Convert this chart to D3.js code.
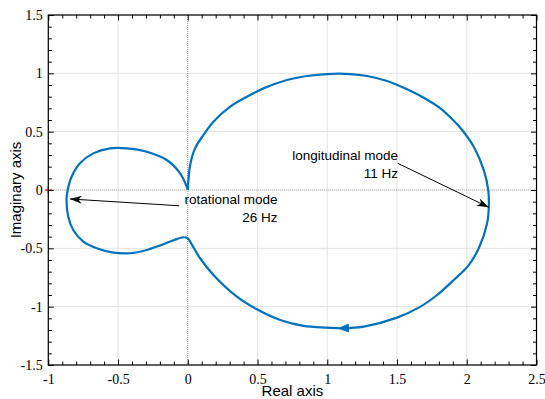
<!DOCTYPE html>
<html><head><meta charset="utf-8">
<script src="https://cdn.jsdelivr.net/npm/d3@7"></script>
<style>
html,body{margin:0;padding:0;background:#fff;}
svg{display:block;}
</style></head>
<body>
<svg id="chart" width="545" height="399"></svg>
<script>
// ---- data ----
const realPart = [0, 0.017, 0.052, 0.112, 0.184, 0.304, 0.424, 0.543, 0.711, 0.854, 0.998, 1.165, 1.285, 1.429, 1.572, 1.691, 1.811, 1.907, 1.967, 2.050, 2.122, 2.154, 2.158, 2.146, 2.086, 2.010, 1.907, 1.787, 1.668, 1.500, 1.261, 1.105, 0.998, 0.830, 0.663, 0.495, 0.352, 0.184, 0.088, 0.030, 0.000, -0.032, -0.100, -0.199, -0.294, -0.414, -0.534, -0.653, -0.749, -0.821, -0.857, -0.869, -0.861, -0.833, -0.773, -0.678, -0.558, -0.438, -0.294, -0.151, -0.055, -0.007, 0];
const imagPart = [0, 0.214, 0.357, 0.471, 0.585, 0.714, 0.800, 0.871, 0.943, 0.977, 0.994, 0.994, 0.977, 0.934, 0.863, 0.791, 0.700, 0.594, 0.514, 0.371, 0.171, 0.000, -0.143, -0.285, -0.500, -0.650, -0.771, -0.900, -1.000, -1.094, -1.171, -1.185, -1.180, -1.165, -1.114, -1.022, -0.914, -0.728, -0.585, -0.470, -0.414, -0.405, -0.430, -0.475, -0.514, -0.542, -0.537, -0.500, -0.443, -0.343, -0.229, -0.071, 0.000, 0.114, 0.229, 0.314, 0.357, 0.357, 0.328, 0.257, 0.143, 0.028, 0];
const xTicks = [-1, -0.5, 0, 0.5, 1, 1.5, 2, 2.5];
const yTicks = [-1.5, -1, -0.5, 0, 0.5, 1, 1.5];
const xLabel = "Real axis";
const yLabel = "Imaginary axis";
const criticalPoint = [-1, 0];
const annotationLines = [["longitudinal mode", "11 Hz"], ["rotational mode", "26 Hz"]];
const annotationTextAt = [[1.507, 0.254], [0.643, -0.120]];
const annotationArrowFrom = [[1.505, 0.229], [-0.062, -0.135]];
const annotationArrowTo = [[2.158, -0.148], [-0.845, -0.077]];
const directionArrowTip = [1.08, -1.186];
const directionArrowTail = [1.16, -1.183];

// ---- layout ----
const svg = d3.select("#chart");
const L = 48.3, R = 536.5, T = 15, B = 365;
const x = d3.scaleLinear().domain([-1, 2.5]).range([L, R]);
const y = d3.scaleLinear().domain([-1.5, 1.5]).range([B, T]);
const xMinor = d3.range(-10, 26).map(d => d / 10).filter(d => !xTicks.some(t => Math.abs(t - d) < 1e-9));
const yMinor = d3.range(-15, 16).map(d => d / 10).filter(d => !yTicks.some(t => Math.abs(t - d) < 1e-9));
const fmt = d => String(d);

// grid
const grid = svg.append("g");
grid.selectAll("line.gx").data(xTicks.filter(d => d !== 0)).join("line")
  .attr("x1", d => x(d)).attr("x2", d => x(d)).attr("y1", T).attr("y2", B)
  .attr("stroke", "#e3e3e3").attr("stroke-width", 1);
grid.selectAll("line.gy").data(yTicks.filter(d => d !== 0)).join("line")
  .attr("y1", d => y(d)).attr("y2", d => y(d)).attr("x1", L).attr("x2", R)
  .attr("stroke", "#e3e3e3").attr("stroke-width", 1);
// zero lines (dotted)
svg.append("line").attr("x1", x(0)).attr("x2", x(0)).attr("y1", T).attr("y2", B)
  .attr("stroke", "#8a8a8a").attr("stroke-width", 1).attr("stroke-dasharray", "1,1");
svg.append("line").attr("y1", y(0)).attr("y2", y(0)).attr("x1", L).attr("x2", R)
  .attr("stroke", "#8a8a8a").attr("stroke-width", 1).attr("stroke-dasharray", "1,1");

// curve
const pts = realPart.map((r, i) => [r, imagPart[i]]);
const line = d3.line().x(d => x(d[0])).y(d => y(d[1])).curve(d3.curveCatmullRom.alpha(0.5));
svg.append("path").attr("d", line(pts)).attr("fill", "none")
  .attr("stroke", "#0072BD").attr("stroke-width", 2.2).attr("stroke-linejoin", "round");

// direction arrow on curve
function headPath(tip, tail, len, half, notch) {
  const tx = x(tip[0]), ty = y(tip[1]);
  const ax = x(tail[0]) - tx, ay = y(tail[1]) - ty;
  const n = Math.hypot(ax, ay), ux = ax / n, uy = ay / n;
  const px = -uy, py = ux;
  const bx = tx + ux * len, by = ty + uy * len;
  const nx = tx + ux * len * notch, ny = ty + uy * len * notch;
  return `M${tx},${ty}L${bx + px * half},${by + py * half}L${nx},${ny}L${bx - px * half},${by - py * half}Z`;
}
svg.append("path").attr("d", headPath(directionArrowTip, directionArrowTail, 10, 4, 1))
  .attr("fill", "#0072BD").attr("stroke", "#0072BD").attr("stroke-width", 0.8);

// annotations
annotationLines.forEach((lines, i) => {
  const f = annotationArrowFrom[i], t = annotationArrowTo[i];
  svg.append("line").attr("x1", x(f[0])).attr("y1", y(f[1])).attr("x2", x(t[0])).attr("y2", y(t[1]))
    .attr("stroke", "#000").attr("stroke-width", 1);
  svg.append("path").attr("d", headPath(t, f, 12, 4, 0.7)).attr("fill", "#000");
  const txt = svg.append("text").attr("x", x(annotationTextAt[i][0])).attr("y", y(annotationTextAt[i][1]))
    .attr("text-anchor", "end").attr("font-family", "Liberation Sans, Arial, sans-serif")
    .attr("font-size", "13.5px").attr("fill", "#000");
  lines.forEach((s, k) => txt.append("tspan").attr("x", x(annotationTextAt[i][0])).attr("dy", k ? "1.3em" : 0).text(s));
});

// critical point
const cp = svg.append("g").attr("stroke", "#ff0000").attr("stroke-width", 1.3);
cp.append("line").attr("x1", x(criticalPoint[0]) - 3.5).attr("x2", x(criticalPoint[0]) + 3.5)
  .attr("y1", y(criticalPoint[1])).attr("y2", y(criticalPoint[1]));
cp.append("line").attr("y1", y(criticalPoint[1]) - 3.5).attr("y2", y(criticalPoint[1]) + 3.5)
  .attr("x1", x(criticalPoint[0])).attr("x2", x(criticalPoint[0]));

// axes
function styleAxis(g) {
  g.select(".domain").remove();
  g.selectAll(".tick line").attr("stroke", "#000").attr("stroke-width", 1);
  g.selectAll("text").attr("font-family", "Liberation Serif, Times New Roman, serif")
    .attr("font-size", "14px").attr("fill", "#000");
}
svg.append("g").attr("transform", `translate(0,${B})`)
  .call(d3.axisBottom(x).tickValues(xTicks).tickFormat(fmt).tickSizeInner(-5.5).tickSizeOuter(0).tickPadding(9))
  .call(styleAxis);
svg.append("g").attr("transform", `translate(0,${B})`)
  .call(d3.axisBottom(x).tickValues(xMinor).tickFormat("").tickSizeInner(-3.5).tickSizeOuter(0)).call(styleAxis);
svg.append("g").attr("transform", `translate(0,${T})`)
  .call(d3.axisTop(x).tickValues(xTicks).tickFormat("").tickSizeInner(-5.5).tickSizeOuter(0)).call(styleAxis);
svg.append("g").attr("transform", `translate(0,${T})`)
  .call(d3.axisTop(x).tickValues(xMinor).tickFormat("").tickSizeInner(-3.5).tickSizeOuter(0)).call(styleAxis);
svg.append("g").attr("transform", `translate(${L},0)`)
  .call(d3.axisLeft(y).tickValues(yTicks).tickFormat(fmt).tickSizeInner(-5.5).tickSizeOuter(0).tickPadding(5.6))
  .call(styleAxis);
svg.append("g").attr("transform", `translate(${L},0)`)
  .call(d3.axisLeft(y).tickValues(yMinor).tickFormat("").tickSizeInner(-3.5).tickSizeOuter(0)).call(styleAxis);
svg.append("g").attr("transform", `translate(${R},0)`)
  .call(d3.axisRight(y).tickValues(yTicks).tickFormat("").tickSizeInner(-5.5).tickSizeOuter(0)).call(styleAxis);
svg.append("g").attr("transform", `translate(${R},0)`)
  .call(d3.axisRight(y).tickValues(yMinor).tickFormat("").tickSizeInner(-3.5).tickSizeOuter(0)).call(styleAxis);

// box
svg.append("rect").attr("x", L).attr("y", T).attr("width", R - L).attr("height", B - T)
  .attr("fill", "none").attr("stroke", "#000").attr("stroke-width", 1.2);

// axis labels
svg.append("text").attr("x", (L + R) / 2).attr("y", 396).attr("text-anchor", "middle")
  .attr("font-family", "Liberation Sans, Arial, sans-serif").attr("font-size", "15px").attr("fill", "#000").text(xLabel);
svg.append("text").attr("transform", `translate(21,${(T + B) / 2}) rotate(-90)`).attr("text-anchor", "middle")
  .attr("font-family", "Liberation Sans, Arial, sans-serif").attr("font-size", "15px").attr("fill", "#000").text(yLabel);
</script>
</body></html>
